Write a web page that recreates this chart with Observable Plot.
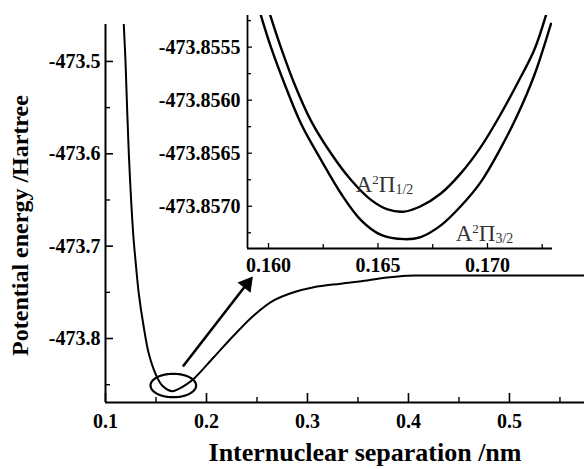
<!DOCTYPE html>
<html><head><meta charset="utf-8">
<script src="https://cdn.jsdelivr.net/npm/d3@7"></script>
<script src="https://cdn.jsdelivr.net/npm/@observablehq/plot@0.6"></script>
<style>
html,body{margin:0;padding:0;background:#fff;}
#wrap{position:relative;width:584px;height:469px;overflow:hidden;background:#fff;}
#wrap svg{position:absolute;top:0;}
</style></head><body><div id="wrap"></div>
<script>
// ---- main curve (internuclear separation nm, energy Hartree) ----
const mainR = [0.1181, 0.1198, 0.1231, 0.1274, 0.1297, 0.1330, 0.1379, 0.1429, 0.1495, 0.1561, 0.1660, 0.1726, 0.1809, 0.1880, 0.2072, 0.2270, 0.2468, 0.2666, 0.2864, 0.3062, 0.3327, 0.3591, 0.3789, 0.3987, 0.4119, 0.4500, 0.5000, 0.5743];
const mainE = [-473.4600, -473.5000, -473.6000, -473.6863, -473.7155, -473.7516, -473.7878, -473.8166, -473.8382, -473.8509, -473.8570, -473.8545, -473.8491, -473.8430, -473.8203, -473.7968, -473.7751, -473.7588, -473.7499, -473.7444, -473.7406, -473.7372, -473.7340, -473.7320, -473.7318, -473.7318, -473.7318, -473.7318];
const xMajor = [0.1, 0.2, 0.3, 0.4, 0.5];
const xMajorLabels = ["0.1", "0.2", "0.3", "0.4", "0.5"];
const xMinor = [0.15, 0.25, 0.35, 0.45, 0.55];
const yMajor = [-473.5, -473.6, -473.7, -473.8];
const yMajorLabels = ["-473.5", "-473.6", "-473.7", "-473.8"];
const yMinor = [-473.55, -473.65, -473.75, -473.85];
const xTitle = "Internuclear separation /nm";
const yTitle = "Potential energy /Hartree";
// ellipse around the minimum and the arrow (data units)
const ellipseCenter = {x: 0.16713, y: -473.8509};
const ellipseRadius = {x: 0.02257, y: 0.01267};
const arrowLine = [{x1: 0.1766, y1: -473.8303, x2: 0.2374, y2: -473.7445}];
const arrowHead = [{x: 0.2401, y: -473.7409}];

// ---- inset: two spin-orbit components ----
const insetR1 = [0.16008, 0.16056, 0.16117, 0.16193, 0.16285, 0.16376, 0.16468, 0.16544, 0.16621, 0.16695, 0.16787, 0.16878, 0.16970, 0.17061, 0.17137, 0.17213, 0.17267];
const insetE1 = [-473.85520, -473.85550, -473.85584, -473.85619, -473.85650, -473.85675, -473.85694, -473.85703, -473.85705, -473.85700, -473.85688, -473.85669, -473.85644, -473.85613, -473.85584, -473.85553, -473.85520];
const insetR2 = [0.15965, 0.16011, 0.16072, 0.16148, 0.16239, 0.16331, 0.16422, 0.16514, 0.16621, 0.16695, 0.16787, 0.16878, 0.16970, 0.17061, 0.17137, 0.17213, 0.17290];
const insetE2 = [-473.85520, -473.85550, -473.85584, -473.85622, -473.85656, -473.85688, -473.85713, -473.85727, -473.85731, -473.85729, -473.85718, -473.85700, -473.85677, -473.85645, -473.85614, -473.85577, -473.85528];
const inXMajor = [0.160, 0.165, 0.170];
const inXMajorLabels = ["0.160", "0.165", "0.170"];
const inXMinor = [0.1625, 0.1675, 0.1725];
const inYMajor = [-473.8555, -473.8560, -473.8565, -473.8570];
const inYMajorLabels = ["-473.8555", "-473.8560", "-473.8565", "-473.8570"];
const inYMinor = [-473.85525, -473.85575, -473.85625, -473.85675, -473.85725];
const insetLabels = [
  {key: "A2Π1/2", base: "A", sup: "2", mid: "Π", sub: "1/2", x: 0.16398, y: -473.856793},
  {key: "A2Π3/2", base: "A", sup: "2", mid: "Π", sub: "3/2", x: 0.16855, y: -473.857257}
];

const font = "'Liberation Serif','Times New Roman',serif";
const wrap = document.getElementById("wrap");

// ---------- main plot ----------
const W = 584, H = 469, mL = 105, mT = 24, mB = 67, mR = 0;
const fw = W - mL - mR, fh = H - mT - mB;
const xDom = [0.1, 0.5743], yDom = [-473.8693, -473.46];
const mainData = mainR.map((r, i) => ({r, e: mainE[i]}));
const ellipsePts = d3.range(0, 361, 4).map(a => ({
  x: ellipseCenter.x + ellipseRadius.x * Math.cos(a * Math.PI / 180),
  y: ellipseCenter.y + ellipseRadius.y * Math.sin(a * Math.PI / 180)
}));

const main = Plot.plot({
  width: W, height: H, marginLeft: mL, marginTop: mT, marginBottom: mB, marginRight: mR,
  x: {domain: xDom}, y: {domain: yDom},
  style: {fontFamily: font, fontSize: "20px", fontWeight: "bold", color: "#000", background: "transparent", overflow: "visible"},
  marks: [
    Plot.axisX({ticks: xMajor, tickSize: 0, tickPadding: 11, label: null, tickFormat: d => xMajorLabels[xMajor.indexOf(d)], fontSize: 20}),
    Plot.axisY({ticks: yMajor, tickSize: 0, tickPadding: 5, label: null, tickFormat: d => yMajorLabels[yMajor.indexOf(d)], fontSize: 20}),
    Plot.tickX(xMajor, {x: d => d, insetTop: fh - 9, strokeWidth: 1.6}),
    Plot.tickX(xMinor, {x: d => d, insetTop: fh - 5, strokeWidth: 1.4}),
    Plot.tickY(yMajor, {y: d => d, insetRight: fw - 8, strokeWidth: 1.6}),
    Plot.tickY(yMinor, {y: d => d, insetRight: fw - 5, strokeWidth: 1.4}),
    Plot.ruleX([xDom[0]], {strokeWidth: 2}),
    Plot.ruleY([yDom[0]], {strokeWidth: 2}),
    Plot.line(mainData, {x: "r", y: "e", curve: "catmull-rom", strokeWidth: 2, clip: true}),
    Plot.line(ellipsePts, {x: "x", y: "y", strokeWidth: 2.2}),
    Plot.link(arrowLine, {x1: "x1", y1: "y1", x2: "x2", y2: "y2", strokeWidth: 2.6}),
    Plot.dot(arrowHead, {x: "x", y: "y", symbol: "triangle", r: 5.5, fill: "black", stroke: "black", strokeWidth: 1, rotate: 38}),
    Plot.text([xTitle], {frameAnchor: "bottom", textAnchor: "middle", lineAnchor: "middle", dx: 20, dy: 50, text: d => d, fontSize: 26, fontWeight: "bold"}),
    Plot.text([yTitle], {frameAnchor: "left", textAnchor: "middle", lineAnchor: "middle", dx: -85, dy: 12, rotate: -90, text: d => d, fontSize: 24, fontWeight: "bold"})
  ]
});
main.style.left = "0px";
wrap.appendChild(main);

// ---------- inset ----------
const iW = 444, iH = 290, iL = 107, iR = 32, iT = 15, iB = 42;
const ifw = iW - iL - iR, ifh = iH - iT - iB;
const ixDom = [0.15904, 0.17297], iyDom = [-473.857398, -473.855202];
const ins1 = insetR1.map((r, i) => ({r, e: insetE1[i]}));
const ins2 = insetR2.map((r, i) => ({r, e: insetE2[i]}));

const inset = Plot.plot({
  width: iW, height: iH, marginLeft: iL, marginRight: iR, marginTop: iT, marginBottom: iB,
  x: {domain: ixDom}, y: {domain: iyDom},
  style: {fontFamily: font, fontSize: "20px", fontWeight: "bold", color: "#000", background: "transparent", overflow: "visible"},
  marks: [
    Plot.axisX({ticks: inXMajor, tickSize: 0, tickPadding: 9, label: null, tickFormat: d => inXMajorLabels[inXMajor.indexOf(d)], fontSize: 20}),
    Plot.axisY({ticks: inYMajor, tickSize: 0, tickPadding: 7, label: null, tickFormat: d => inYMajorLabels[inYMajor.indexOf(d)], fontSize: 20}),
    Plot.tickX(inXMajor, {x: d => d, insetTop: ifh - 5, strokeWidth: 1.3}),
    Plot.tickX(inXMinor, {x: d => d, insetTop: ifh - 4, strokeWidth: 1.3}),
    Plot.tickY(inYMajor, {y: d => d, insetRight: ifw - 5, strokeWidth: 1.3}),
    Plot.tickY(inYMinor, {y: d => d, insetRight: ifw - 4, strokeWidth: 1.3}),
    Plot.ruleX([ixDom[0]], {strokeWidth: 1.8}),
    Plot.ruleY([iyDom[0]], {strokeWidth: 1.8}),
    Plot.line(ins1, {x: "r", y: "e", curve: "catmull-rom", strokeWidth: 2.4, clip: true}),
    Plot.line(ins2, {x: "r", y: "e", curve: "catmull-rom", strokeWidth: 2.4, clip: true}),
    Plot.text(insetLabels, {x: "x", y: "y", text: "key", textAnchor: "start", lineAnchor: "middle", fontSize: 23, fontWeight: "normal", fill: "#333"})
  ]
});
inset.style.left = "140px";
wrap.appendChild(inset);

d3.select(inset).selectAll("text").each(function () {
  const lab = insetLabels.find(l => l.key === this.textContent);
  if (!lab) return;
  const t = d3.select(this);
  t.text(null);
  t.append("tspan").text(lab.base);
  t.append("tspan").attr("font-size", 13).attr("dy", -8).text(lab.sup);
  t.append("tspan").attr("dy", 8).text(lab.mid);
  t.append("tspan").attr("font-size", 14).attr("dy", 2).text(lab.sub);
});
</script>
</body></html>
